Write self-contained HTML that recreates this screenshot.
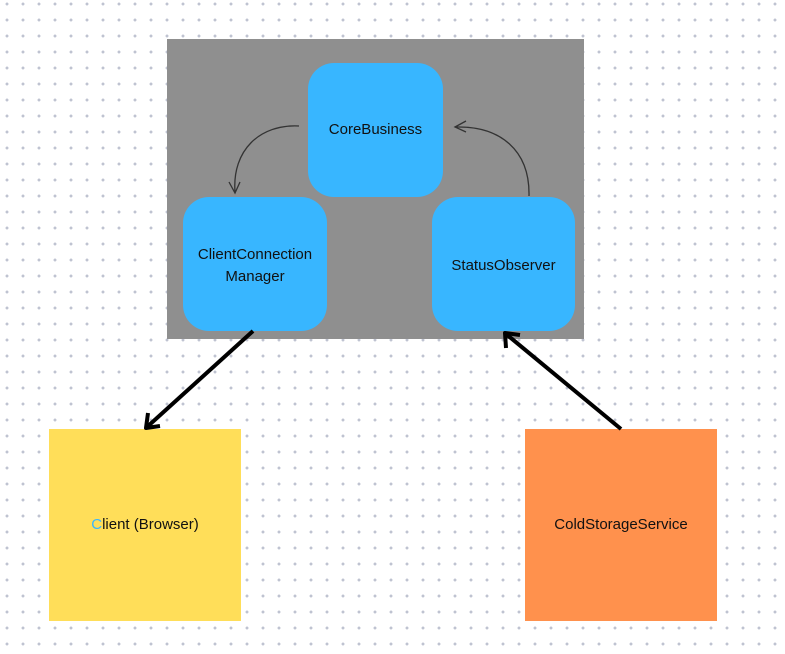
<!DOCTYPE html>
<html><head><style>
body{margin:0;width:785px;height:654px;overflow:hidden;background:#fff;
background-image:radial-gradient(circle,#bfc3d1 1.3px,transparent 1.6px);
background-size:16px 16px;background-position:-1px -4px;font-family:"Liberation Sans",sans-serif;}
.a{position:absolute;display:flex;align-items:center;justify-content:center;text-align:center;font-size:15px;color:#111;line-height:22px}
.b{background:#38b6ff;border-radius:26px}
</style></head><body>
<div style="position:absolute;left:167px;top:39px;width:417px;height:300px;background:#8f8f8f"></div>
<div class="a b" style="left:308px;top:63px;width:135px;height:134px"><span style="margin-top:0px">CoreBusiness</span></div>
<div class="a b" style="left:183px;top:197px;width:144px;height:134px"><span style="margin-top:4px">ClientConnection<br>Manager</span></div>
<div class="a b" style="left:432px;top:197px;width:143px;height:134px"><span style="margin-top:4px">StatusObserver</span></div>
<div class="a" style="left:49px;top:429px;width:192px;height:192px;background:#ffde59"><span><span style="color:#38b6ff">C</span>lient (Browser)</span></div>
<div class="a" style="left:525px;top:429px;width:192px;height:192px;background:#ff914d">ColdStorageService</div>
<svg width="785" height="654" style="position:absolute;left:0;top:0" fill="none">
<path d="M299 126 C260 124 232 150 235 192" stroke="#333" stroke-width="1.3"/>
<path d="M229 182 L235 193 L240 182" stroke="#333" stroke-width="1.3"/>
<path d="M529 196 C530 150 500 126 456 127" stroke="#333" stroke-width="1.3"/>
<path d="M466 121 L455 127 L466 132" stroke="#333" stroke-width="1.3"/>
<path d="M253 331 L147 427" stroke="#000" stroke-width="4"/>
<path d="M148 413 L146 428 L160 426" stroke="#000" stroke-width="4" stroke-linejoin="round"/>
<path d="M621 429 L506 334" stroke="#000" stroke-width="4"/>
<path d="M506 348 L505 333 L520 335" stroke="#000" stroke-width="4" stroke-linejoin="round"/>
</svg>
</body></html>
